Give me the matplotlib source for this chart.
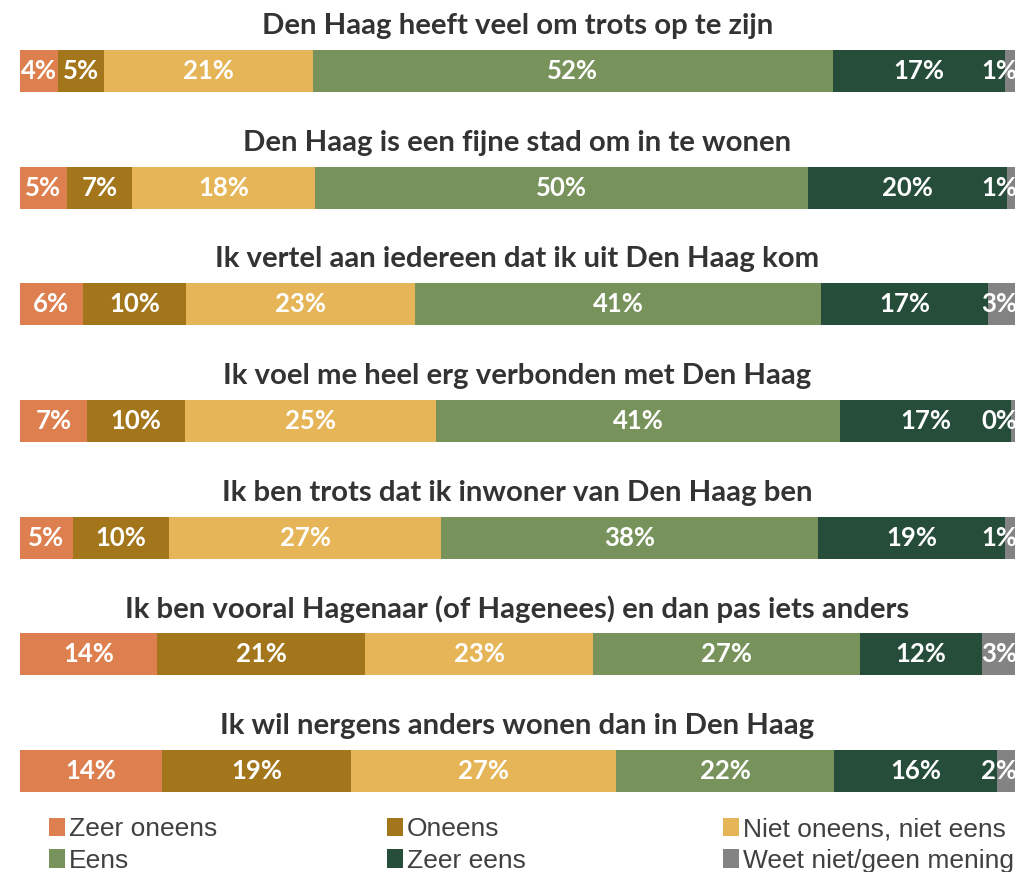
import matplotlib.pyplot as plt
from matplotlib.patches import Patch

statements = [
    'Den Haag heeft veel om trots op te zijn',
    'Den Haag is een fijne stad om in te wonen',
    'Ik vertel aan iedereen dat ik uit Den Haag kom',
    'Ik voel me heel erg verbonden met Den Haag',
    'Ik ben trots dat ik inwoner van Den Haag ben',
    'Ik ben vooral Hagenaar (of Hagenees) en dan pas iets anders',
    'Ik wil nergens anders wonen dan in Den Haag',
]
categories = ['Zeer oneens', 'Oneens', 'Niet oneens, niet eens',
              'Eens', 'Zeer eens', 'Weet niet/geen mening']

# percentages per category, one entry per statement
zeer_oneens = [3.8, 4.7, 6.3, 6.7, 5.3, 13.8, 14.3]
oneens = [4.6, 6.6, 10.4, 9.9, 9.7, 20.9, 19.0]
neutraal = [21.0, 18.3, 23.0, 25.2, 27.3, 22.9, 26.6]
eens = [52.3, 49.6, 40.8, 40.6, 37.9, 26.8, 21.9]
zeer_eens = [17.3, 20.0, 16.8, 17.2, 18.8, 12.3, 16.4]
weet_niet = [1.0, 0.8, 2.7, 0.4, 1.0, 3.3, 1.8]
series = [zeer_oneens, oneens, neutraal, eens, zeer_eens, weet_niet]

colors = ['#DD7F4E', '#A3761C', '#E5B557', '#78925C', '#254D39', '#838383']

W, H = 1017, 872
fig = plt.figure(figsize=(W / 100, H / 100), dpi=100)
ax = fig.add_axes([20 / W, 1 - 792 / H, 995 / W, 742 / H])

ypos = list(range(len(statements)))
left = [0.0] * len(statements)
for k, vals in enumerate(series):
    ax.barh(ypos, vals, left=left, height=0.36, color=colors[k], edgecolor='none')
    for i, v in enumerate(vals):
        c = left[i] + v / 2
        if k == len(series) - 1:
            ax.text(100.2, i, f'{v:.0f}%', ha='right', va='center', color='white',
                    fontsize=18.5, fontweight='bold', family='Lato')
        else:
            ax.text(c, i, f'{v:.0f}%', ha='center', va='center', color='white',
                    fontsize=18.5, fontweight='bold', family='Lato')
    left = [l + v for l, v in zip(left, vals)]

for i, s in enumerate(statements):
    ax.text(50, i - 0.385, s, ha='center', va='center', color='#333333',
            fontsize=21.2, fontweight='bold', family='Lato', clip_on=False)

ax.set_xlim(0, 100)
ax.set_ylim(6.18, -0.18)
ax.axis('off')

# legend: three columns, two rows
handles = [Patch(facecolor=c, edgecolor='none') for c in colors]
col_x = [36 / W, 374 / W, 710 / W]
for j in range(3):
    idx = [j, j + 3]
    leg = fig.legend([handles[n] for n in idx], [categories[n] for n in idx],
                     loc='upper left', bbox_to_anchor=(col_x[j], 1 - 804 / H),
                     frameon=False, handlelength=0.6, handleheight=0.7,
                     handletextpad=0.15, labelspacing=0.28, borderpad=0,
                     prop={'family': 'Liberation Sans', 'size': 19})
    for t in leg.get_texts():
        t.set_color('#404040')

fig.savefig('out.png', dpi=100)
